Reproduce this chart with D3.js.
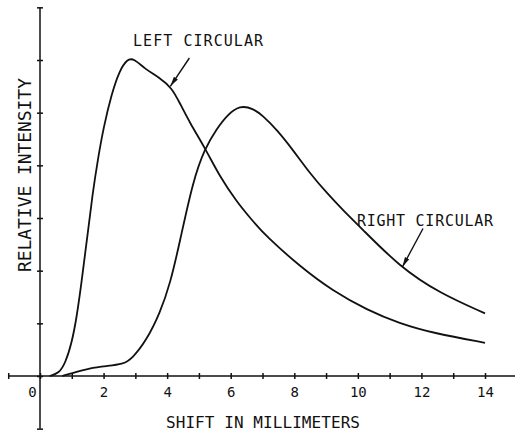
<!DOCTYPE html>
<html>
<head>
    <meta charset="utf-8" />
    <script src="https://d3js.org/d3.v7.min.js"></script>
    <style>
        body { margin: 0; background: #fff; }
        svg { display: block; }
        .lbl { font-family: "DejaVu Sans Mono", monospace; fill: #111; }
        .curve { fill: none; stroke: #111; stroke-width: 1.8; }
        .ax { stroke: #111; stroke-width: 1.5; }
    </style>
</head>
<body>
<script>
    // values
    var leftX  = [0.3, 0.6, 0.8, 1.0, 1.15, 1.3, 1.48, 1.65, 1.83, 2.0, 2.25, 2.5, 2.75, 2.95, 3.3, 3.75, 4.15, 4.4, 4.72, 5.19, 5.66, 6.2, 6.67, 7.1, 8.2, 9.2, 10.3, 11.3, 12.4, 14];
    var leftY  = [0, 0.05, 0.25, 0.63, 1.1, 1.75, 2.6, 3.45, 4.15, 4.72, 5.35, 5.8, 6.02, 6.03, 5.83, 5.67, 5.47, 5.18, 4.8, 4.33, 3.78, 3.3, 2.96, 2.66, 2.07, 1.62, 1.25, 1.0, 0.81, 0.63];
    var rightX = [0.7, 1.05, 1.55, 2.1, 2.6, 2.9, 3.35, 3.77, 4.1, 4.4, 4.81, 5.19, 5.57, 5.88, 6.29, 6.7, 7.0, 7.46, 7.96, 8.49, 9.03, 9.53, 10.07, 11.32, 12.58, 14];
    var rightY = [0, 0.06, 0.15, 0.19, 0.22, 0.33, 0.68, 1.19, 1.76, 2.55, 3.7, 4.33, 4.7, 4.95, 5.14, 5.08, 4.95, 4.67, 4.29, 3.85, 3.47, 3.15, 2.83, 2.07, 1.57, 1.19];
    var xTickLabels = [0, 2, 4, 6, 8, 10, 12, 14];

    var width = 515, height = 431;

    var svg = d3.select("body").append("svg")
        .attr("width", width)
        .attr("height", height);

    var x = d3.scaleLinear().domain([0, 14]).range([40, 485]);
    var y = d3.scaleLinear().domain([0, 6]).range([376, 60]);

    svg.append("defs").append("marker")
        .attr("id", "head")
        .attr("viewBox", "0 0 10 6")
        .attr("refX", 10).attr("refY", 3)
        .attr("markerWidth", 10).attr("markerHeight", 6)
        .attr("markerUnits", "userSpaceOnUse")
        .attr("orient", "auto")
        .append("path").attr("d", "M0,0.6L10,3L0,5.4Z").attr("fill", "#111");

    // x axis: line + crossing ticks
    var xAxis = d3.axisBottom(x)
        .tickValues(d3.range(-1, 16))
        .tickSize(0)
        .tickFormat(function (d) { return xTickLabels.indexOf(d) >= 0 ? d : ""; });
    var gx = svg.append("g").attr("transform", "translate(0," + y(0) + ")").call(xAxis);
    gx.select(".domain").remove();
    gx.append("line").attr("class", "ax").attr("x1", x(-1)).attr("x2", x(15)).attr("y1", 0).attr("y2", 0);
    gx.selectAll(".tick line").attr("class", "ax").attr("y1", -3).attr("y2", 3).attr("stroke-width", 1.3);
    gx.selectAll(".tick text")
        .attr("class", "lbl")
        .attr("y", 21).attr("dy", 0)
        .attr("dx", function (d) { return d === 0 ? -8 : 0; })
        .style("font-size", "14px");

    // y axis
    var yAxis = d3.axisLeft(y).tickValues(d3.range(-1, 8)).tickSize(0).tickFormat("");
    var gy = svg.append("g").attr("transform", "translate(" + x(0) + ",0)").call(yAxis);
    gy.select(".domain").remove();
    gy.append("line").attr("class", "ax").attr("x1", 0).attr("x2", 0).attr("y1", y(-1)).attr("y2", y(7));
    gy.selectAll(".tick line").attr("class", "ax").attr("x1", -3).attr("x2", 3).attr("stroke-width", 1.3);

    var line = d3.line()
        .x(function (d) { return x(d[0]); })
        .y(function (d) { return y(d[1]); })
        .curve(d3.curveBasis);

    svg.append("path").attr("class", "curve").attr("d", line(d3.zip(leftX, leftY)));
    svg.append("path").attr("class", "curve").attr("d", line(d3.zip(rightX, rightY)));

    // labels with arrows
    svg.append("text").attr("class", "lbl").attr("x", 133).attr("y", 46)
        .attr("textLength", 130).attr("lengthAdjust", "spacing")
        .style("font-size", "15px").text("LEFT CIRCULAR");
    svg.append("line").attr("x1", x(4.7)).attr("y1", y(6.0) - 2).attr("x2", x(4.1)).attr("y2", y(5.5))
        .attr("stroke", "#111").attr("stroke-width", 1.4).attr("marker-end", "url(#head)");

    svg.append("text").attr("class", "lbl").attr("x", 357).attr("y", 226)
        .attr("textLength", 136).attr("lengthAdjust", "spacing")
        .style("font-size", "15px").text("RIGHT CIRCULAR");
    svg.append("line").attr("x1", x(12.05)).attr("y1", y(2.8)).attr("x2", x(11.4)).attr("y2", y(2.07))
        .attr("stroke", "#111").attr("stroke-width", 1.4).attr("marker-end", "url(#head)");

    // axis titles
    svg.append("text").attr("class", "lbl").attr("x", 166).attr("y", 428)
        .attr("textLength", 194).attr("lengthAdjust", "spacing")
        .style("font-size", "16px").text("SHIFT IN MILLIMETERS");
    svg.append("text").attr("class", "lbl")
        .attr("transform", "translate(31,272) rotate(-90)")
        .attr("textLength", 194).attr("lengthAdjust", "spacing")
        .style("font-size", "18px").text("RELATIVE INTENSITY");
</script>
</body>
</html>
